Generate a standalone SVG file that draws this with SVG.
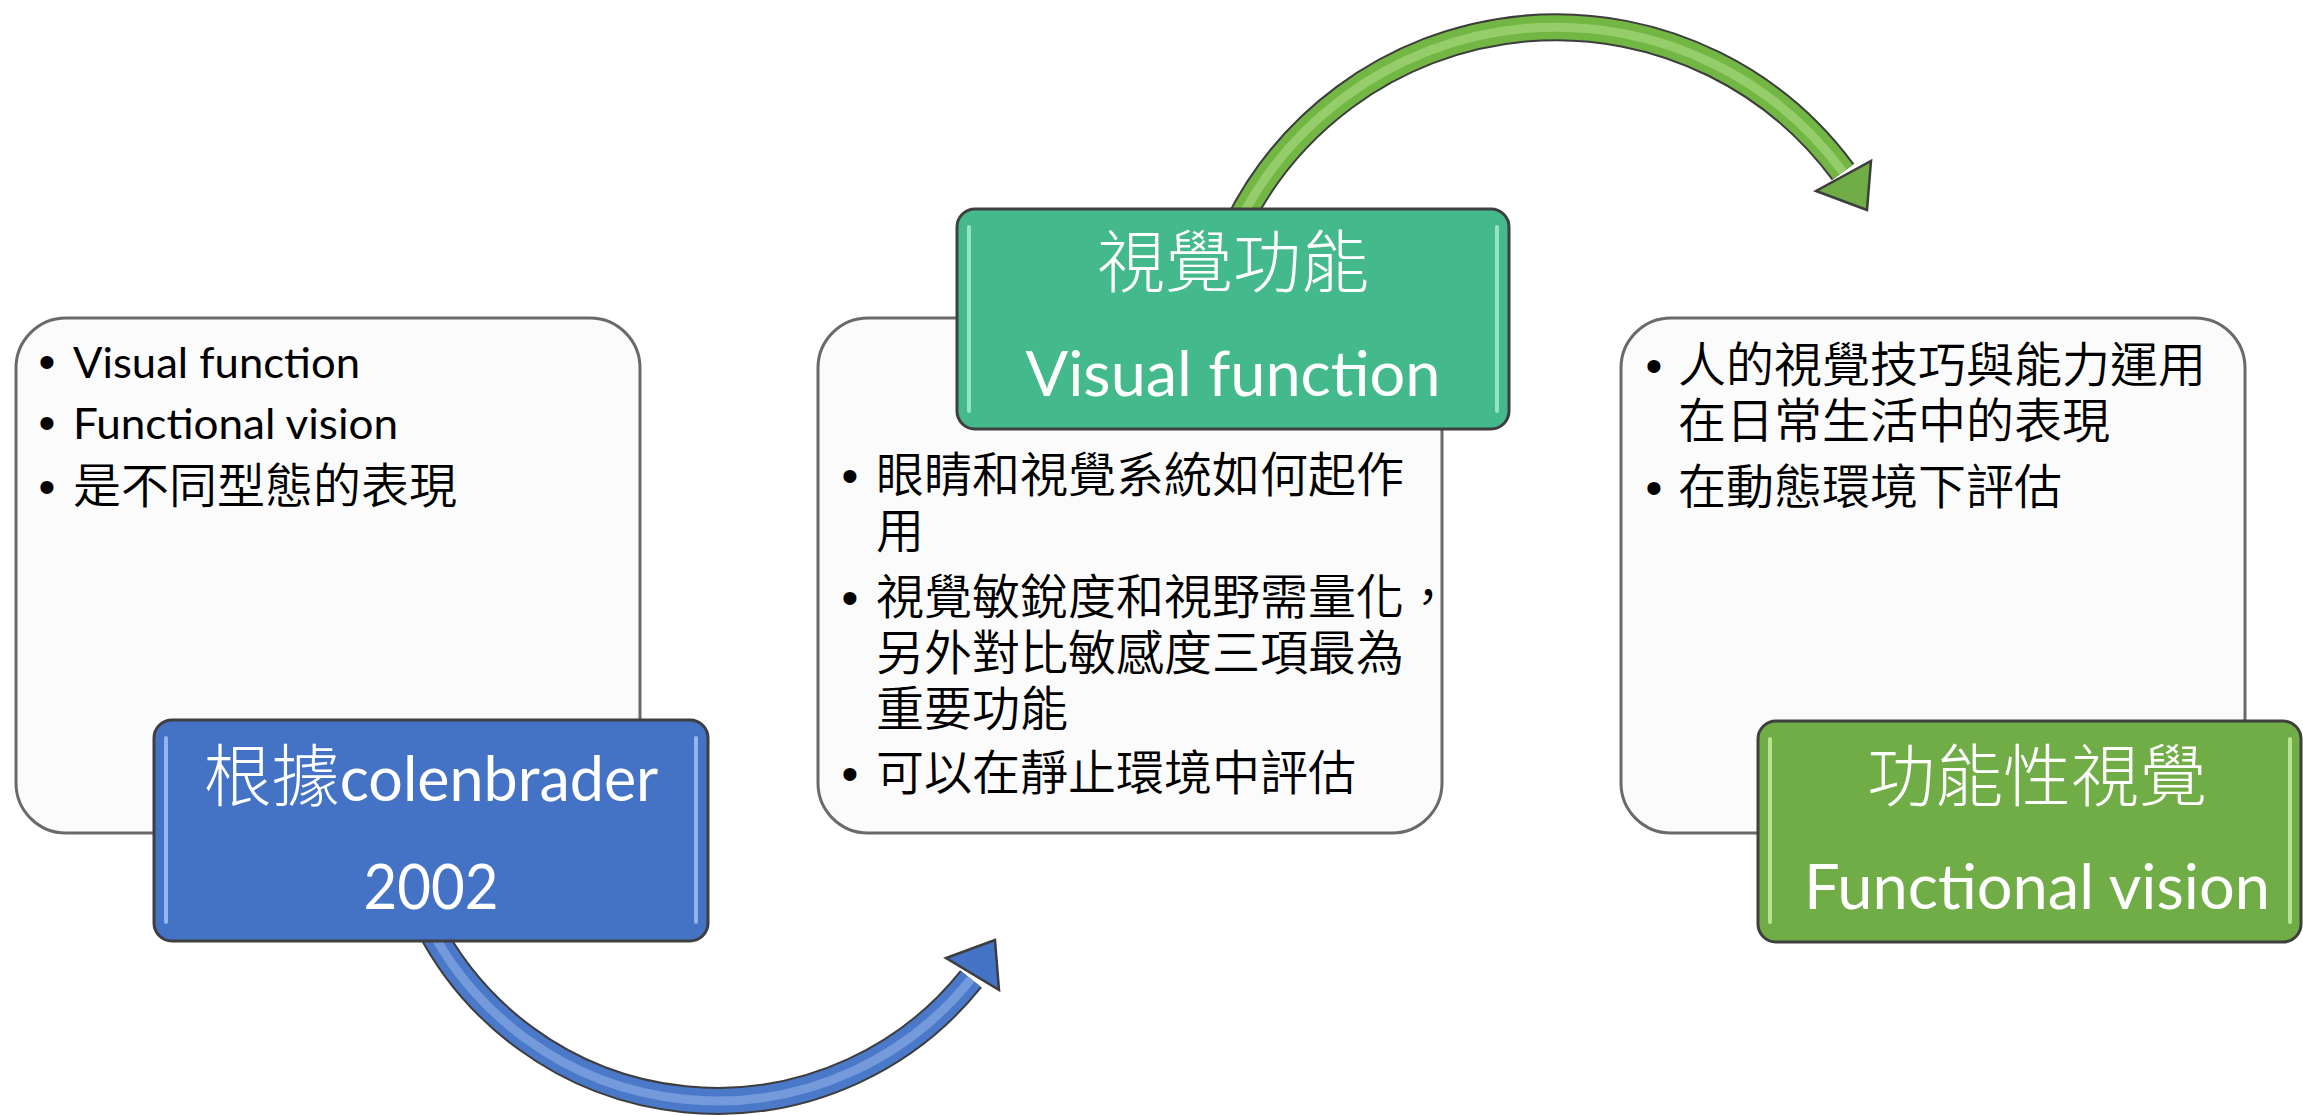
<svg xmlns="http://www.w3.org/2000/svg" width="2303" height="1116" viewBox="0 0 2303 1116">
<style>
  .card { fill:#fbfbfb; stroke:#6a6a6a; stroke-width:3; }
  .title-box { stroke:#3f3f3f; stroke-width:3; }
  .blue { fill:#4472c4; }
  .teal { fill:#43b98c; }
  .green { fill:#70ad47; }
  .hl { fill:none; stroke-width:4; stroke-linecap:round; opacity:0.8; }
  .hl-blue { stroke:#a9c6f5; }
  .hl-teal { stroke:#a8f0d2; }
  .hl-green { stroke:#c9f0a4; }
  .body { font-family:"Noto Sans CJK TC", sans-serif; font-size:48px; font-weight:350; fill:#000; }
  .body-en { font-family:Lato, "Noto Sans CJK TC", sans-serif; font-size:43px; fill:#000; }
  .bullet { font-family:"Liberation Sans", Arial, sans-serif; font-size:48px; fill:#000; text-anchor:middle; }
  .title-cjk { font-family:"Noto Sans CJK TC", sans-serif; font-size:68px; font-weight:300; fill:#fff; text-anchor:middle; }
  .title-en { font-family:Lato, "Noto Sans CJK TC", sans-serif; font-size:61px; fill:#fff; text-anchor:middle; }
  .shaft-out { fill:none; stroke:#3d3d3d; stroke-width:28; }
  .shaft-blue { fill:none; stroke:#4a79ca; stroke-width:24; }
  .shaft-blue-hl { fill:none; stroke:#a8c4f2; stroke-width:9; opacity:0.45; }
  .shaft-green { fill:none; stroke:#72b644; stroke-width:24; }
  .shaft-green-hl { fill:none; stroke:#c3e89c; stroke-width:9; opacity:0.45; }
  .head { stroke:#3d3d3d; stroke-width:2.5; stroke-linejoin:miter; }
</style>

<g id="connectors">
  <g id="arrow-blue">
    <path class="shaft-out" d="M 428 924 A 325 325 0 0 0 971 979"/>
    <path class="shaft-blue" d="M 428 924 A 325 325 0 0 0 971 979"/>
    <path class="shaft-blue-hl" d="M 428 924 A 325 325 0 0 0 971 979"/>
    <polygon class="head blue" points="995,940 946,958 999,990"/>
  </g>
  <g id="arrow-green">
    <path class="shaft-out" d="M 1237 226 A 356 356 0 0 1 1843 172"/>
    <path class="shaft-green" d="M 1237 226 A 356 356 0 0 1 1843 172"/>
    <path class="shaft-green-hl" d="M 1237 226 A 356 356 0 0 1 1843 172"/>
    <polygon class="head green" points="1867,210 1816,191 1871,161"/>
  </g>
</g>

<g id="node-colenbrader">
  <rect class="card" x="16" y="318" width="624" height="515" rx="50" ry="50"/>
  <text class="bullet" x="47" y="378">•</text>
  <text class="body-en" x="73" y="378" textLength="287" lengthAdjust="spacingAndGlyphs">Visual function</text>
  <text class="bullet" x="47" y="439">•</text>
  <text class="body-en" x="73" y="439" textLength="325" lengthAdjust="spacingAndGlyphs">Functional vision</text>
  <text class="bullet" x="47" y="503">•</text>
  <text class="body" x="73" y="503">是不同型態的表現</text>
  <rect class="title-box blue" x="154" y="720" width="554" height="221" rx="18" ry="18"/>
  <line class="hl hl-blue" x1="166" y1="738" x2="166" y2="922"/>
  <line class="hl hl-blue" x1="696" y1="738" x2="696" y2="922"/>
  <text class="title-en" x="431" y="801"><tspan class="title-cjk" style="font-size:68px">根據</tspan>colenbrader</text>
  <text class="title-en" x="431" y="909" textLength="135" lengthAdjust="spacingAndGlyphs">2002</text>
</g>

<g id="node-visual-function">
  <rect class="card" x="818" y="318" width="624" height="515" rx="50" ry="50"/>
  <rect class="title-box teal" x="957" y="209" width="552" height="220" rx="18" ry="18"/>
  <line class="hl hl-teal" x1="969" y1="227" x2="969" y2="411"/>
  <line class="hl hl-teal" x1="1497" y1="227" x2="1497" y2="411"/>
  <text class="title-cjk" x="1233" y="287">視覺功能</text>
  <text class="title-en" x="1233" y="396" textLength="415" lengthAdjust="spacingAndGlyphs">Visual function</text>
  <text class="bullet" x="850" y="492">•</text>
  <text class="body" x="876" y="492">眼睛和視覺系統如何起作<tspan x="876" y="548">用</tspan></text>
  <text class="bullet" x="850" y="614">•</text>
  <text class="body" x="876" y="614">視覺敏銳度和視野需量化，<tspan x="876" y="670">另外對比敏感度三項最為</tspan><tspan x="876" y="726">重要功能</tspan></text>
  <text class="bullet" x="850" y="790">•</text>
  <text class="body" x="876" y="790">可以在靜止環境中評估</text>
</g>

<g id="node-functional-vision">
  <rect class="card" x="1621" y="318" width="624" height="515" rx="50" ry="50"/>
  <text class="bullet" x="1654" y="382">•</text>
  <text class="body" x="1678" y="382">人的視覺技巧與能力運用<tspan x="1678" y="438">在日常生活中的表現</tspan></text>
  <text class="bullet" x="1654" y="504">•</text>
  <text class="body" x="1678" y="504">在動態環境下評估</text>
  <rect class="title-box green" x="1758" y="721" width="543" height="221" rx="18" ry="18"/>
  <line class="hl hl-green" x1="1770" y1="739" x2="1770" y2="922"/>
  <line class="hl hl-green" x1="2290" y1="739" x2="2290" y2="922"/>
  <text class="title-cjk" x="2037" y="801">功能性視覺</text>
  <text class="title-en" x="2037" y="909" textLength="466" lengthAdjust="spacingAndGlyphs">Functional vision</text>
</g>
</svg>
